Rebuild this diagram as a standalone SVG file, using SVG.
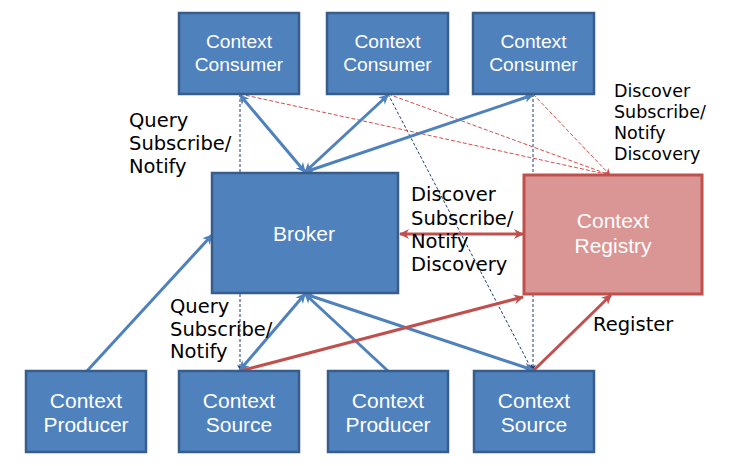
<svg xmlns="http://www.w3.org/2000/svg" width="741" height="466" viewBox="0 0 741 466">
<style>
.box{fill:#4F81BD;stroke:#385D8A;stroke-width:2.5}
.reg{fill:#D99694;stroke:#C0504D;stroke-width:3}
.bt{fill:#fff;font-family:"Liberation Sans",Arial,sans-serif;font-size:21px;text-anchor:middle}
.bts{fill:#fff;font-family:"Liberation Sans",Arial,sans-serif;font-size:19.2px;text-anchor:middle}
.lbl{fill:#000;font-family:"DejaVu Sans",Verdana,sans-serif;font-size:19.5px}
.lbls{fill:#000;font-family:"DejaVu Sans",Verdana,sans-serif;font-size:17.5px}
.tb{stroke:#4F81BD;stroke-width:3;fill:none}
.tr{stroke:#C0504D;stroke-width:3;fill:none}
.db{stroke:#1F3F73;stroke-width:1;stroke-dasharray:3 2;fill:none}
.dr{stroke:#D0504D;stroke-width:1;stroke-dasharray:4 2;fill:none}
</style>
<defs>
<marker id="ab" markerUnits="userSpaceOnUse" viewBox="0 0 10 10" refX="9" refY="5" markerWidth="11" markerHeight="10" orient="auto-start-reverse"><path d="M0,0 L10,5 L0,10 L3,5 z" fill="#4F81BD"/></marker>
<marker id="ar" markerUnits="userSpaceOnUse" viewBox="0 0 10 10" refX="9" refY="5" markerWidth="11" markerHeight="10" orient="auto-start-reverse"><path d="M0,0 L10,5 L0,10 L3,5 z" fill="#C0504D"/></marker>
<marker id="adb" markerUnits="userSpaceOnUse" viewBox="0 0 10 10" refX="9" refY="5" markerWidth="7" markerHeight="6" orient="auto"><path d="M0,0 L10,5 L0,10 L3,5 z" fill="#1F3F73"/></marker>
<marker id="adr" markerUnits="userSpaceOnUse" viewBox="0 0 10 10" refX="9" refY="5" markerWidth="8" markerHeight="7" orient="auto"><path d="M0,0 L10,5 L0,10 L3,5 z" fill="#D0504D"/></marker>
</defs>
<g id="connectors">
<line class="db" x1="240" y1="94" x2="240" y2="370" marker-end="url(#adb)"/>
<line class="db" x1="533" y1="94" x2="533" y2="370" marker-end="url(#adb)"/>
<line class="db" x1="388" y1="94" x2="532" y2="370" marker-end="url(#adb)"/>
<line class="dr" x1="240" y1="94" x2="610" y2="175"/>
<line class="dr" x1="388" y1="94" x2="610" y2="175"/>
<line class="dr" x1="533" y1="94" x2="610" y2="175" marker-end="url(#adr)"/>
<line class="tb" x1="240" y1="95" x2="305" y2="172" marker-start="url(#ab)" marker-end="url(#ab)"/>
<line class="tb" x1="388" y1="95" x2="305" y2="172" marker-start="url(#ab)" marker-end="url(#ab)"/>
<line class="tb" x1="533" y1="95" x2="305" y2="172" marker-start="url(#ab)" marker-end="url(#ab)"/>
<line class="tb" x1="87" y1="371" x2="212" y2="235" marker-end="url(#ab)"/>
<line class="tb" x1="240" y1="370" x2="305" y2="294" marker-start="url(#ab)" marker-end="url(#ab)"/>
<line class="tb" x1="388" y1="371" x2="305" y2="294" marker-end="url(#ab)"/>
<line class="tb" x1="533" y1="370" x2="305" y2="294" marker-start="url(#ab)" marker-end="url(#ab)"/>
<line class="tr" x1="400" y1="234" x2="523" y2="234" marker-start="url(#ar)" marker-end="url(#ar)"/>
<line class="tr" x1="240" y1="371" x2="523" y2="297" marker-end="url(#ar)"/>
<line class="tr" x1="533" y1="371" x2="611" y2="295" marker-end="url(#ar)"/>
</g>
<g id="consumer1"><rect class="box" x="179" y="13" width="120" height="81"/><text class="bts" x="239" y="48">Context</text><text class="bts" x="239" y="71">Consumer</text></g>
<g id="consumer2"><rect class="box" x="327" y="13" width="121" height="81"/><text class="bts" x="387.5" y="48">Context</text><text class="bts" x="387.5" y="71">Consumer</text></g>
<g id="consumer3"><rect class="box" x="473" y="13" width="121" height="81"/><text class="bts" x="533.5" y="48">Context</text><text class="bts" x="533.5" y="71">Consumer</text></g>
<g id="broker"><rect class="box" x="212" y="173" width="186" height="120"/><text class="bt" x="304" y="241">Broker</text></g>
<g id="registry"><rect class="reg" x="524" y="175" width="178" height="119"/><text class="bt" x="613" y="228">Context</text><text class="bt" x="613" y="253">Registry</text></g>
<g id="producer1"><rect class="box" x="26" y="371" width="120" height="81"/><text class="bt" x="86" y="408">Context</text><text class="bt" x="86" y="432">Producer</text></g>
<g id="source1"><rect class="box" x="179" y="371" width="120" height="81"/><text class="bt" x="239" y="408">Context</text><text class="bt" x="239" y="432">Source</text></g>
<g id="producer2"><rect class="box" x="328" y="371" width="120" height="81"/><text class="bt" x="388" y="408">Context</text><text class="bt" x="388" y="432">Producer</text></g>
<g id="source2"><rect class="box" x="474" y="371" width="120" height="81"/><text class="bt" x="534" y="408">Context</text><text class="bt" x="534" y="432">Source</text></g>
<g id="labels">
<text class="lbl" x="129" y="127">Query</text>
<text class="lbl" x="129" y="150">Subscribe/</text>
<text class="lbl" x="129" y="173">Notify</text>
<text class="lbls" x="614" y="97">Discover</text>
<text class="lbls" x="614" y="118">Subscribe/</text>
<text class="lbls" x="614" y="139">Notify</text>
<text class="lbls" x="614" y="160">Discovery</text>
<text class="lbl" x="411" y="201">Discover</text>
<text class="lbl" x="411" y="225">Subscribe/</text>
<text class="lbl" x="411" y="248">Notify</text>
<text class="lbl" x="411" y="271">Discovery</text>
<text class="lbl" x="170" y="313">Query</text>
<text class="lbl" x="170" y="336">Subscribe/</text>
<text class="lbl" x="170" y="358">Notify</text>
<text class="lbl" x="593" y="331">Register</text>
</g>
</svg>
